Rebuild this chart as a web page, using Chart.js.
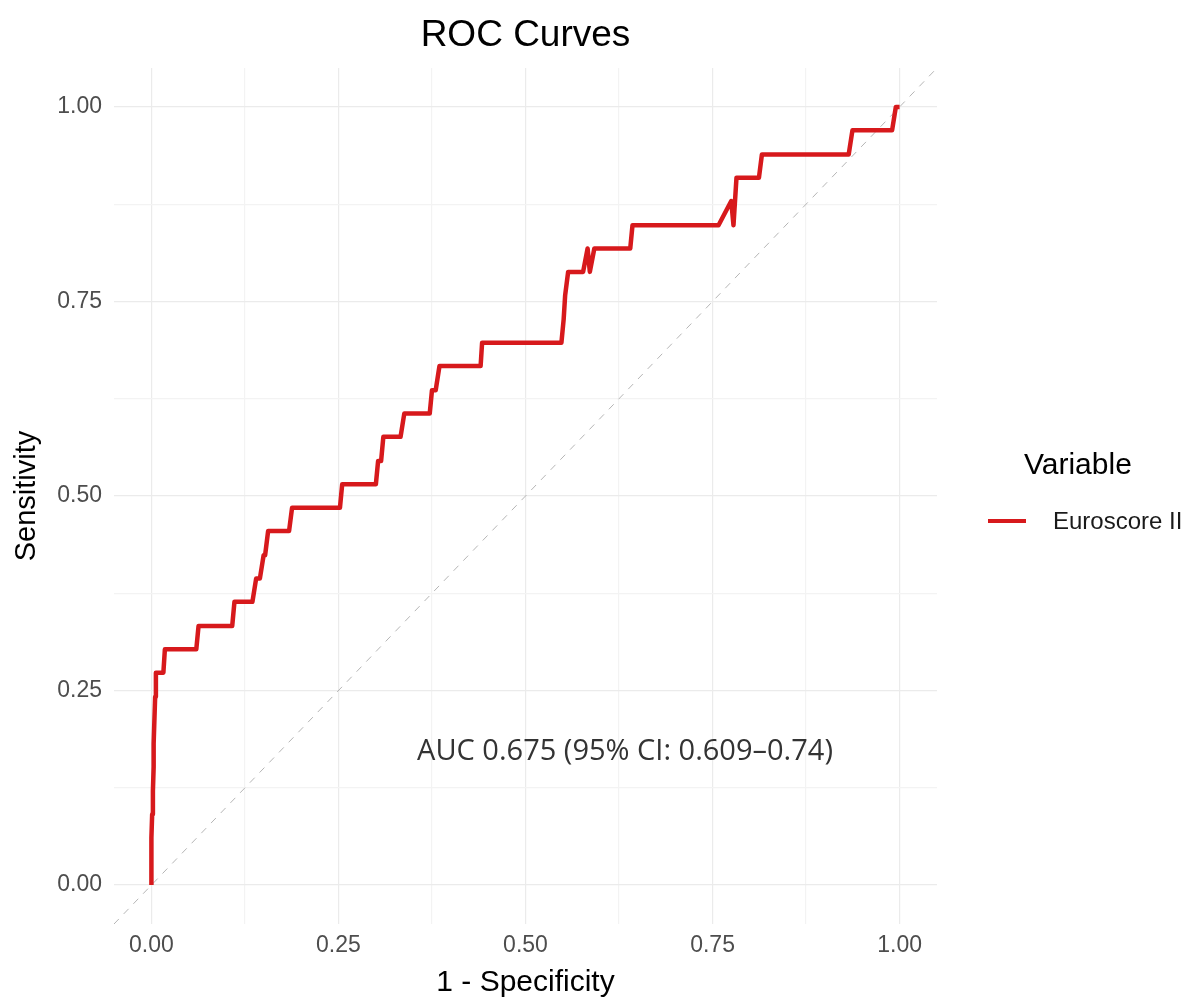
<!DOCTYPE html>
<html>
<head>
<meta charset="utf-8">
<title>ROC Curves</title>
<script src="https://cdn.jsdelivr.net/npm/chart.js@4.4.1/dist/chart.umd.min.js"></script>
<style>
  html, body { margin: 0; padding: 0; background: #fff; }
  #wrap { width: 1197px; height: 1001px; }
</style>
</head>
<body>
<div id="wrap"><canvas id="graficoRoc" width="1197" height="1001"></canvas></div>
<script>
// Curva ROC (1 - especificidade, sensibilidade)
const fpr = [
  0.000, 0.000, 0.000, 0.001, 0.002, 0.003, 0.003, 0.004, 0.005, 0.006,
  0.016, 0.018, 0.060, 0.063, 0.108, 0.111, 0.135, 0.140, 0.145, 0.150,
  0.152, 0.156, 0.184, 0.188, 0.252, 0.255, 0.300, 0.303, 0.307, 0.310,
  0.333, 0.338, 0.372, 0.375, 0.380, 0.385, 0.440, 0.442, 0.548, 0.551,
  0.553, 0.557, 0.577, 0.583, 0.586, 0.592, 0.640, 0.643, 0.758, 0.775,
  0.778, 0.782, 0.812, 0.816, 0.932, 0.937, 0.990, 0.995, 1.000
];
const tpr = [
  0.000, 0.030, 0.061, 0.091, 0.121, 0.152, 0.182, 0.212, 0.242, 0.273,
  0.273, 0.303, 0.303, 0.333, 0.333, 0.364, 0.364, 0.394, 0.394, 0.424,
  0.424, 0.455, 0.455, 0.485, 0.485, 0.515, 0.515, 0.545, 0.545, 0.576,
  0.576, 0.606, 0.606, 0.636, 0.636, 0.667, 0.667, 0.697, 0.697, 0.727,
  0.758, 0.788, 0.788, 0.818, 0.788, 0.818, 0.818, 0.848, 0.848, 0.879,
  0.848, 0.909, 0.909, 0.939, 0.939, 0.970, 0.970, 1.000, 1.000
];

// Linha de referência (acaso)
const diagX = [-0.05, 1.05];
const diagY = [-0.05, 1.05];

// Marcas dos eixos
const ticksMaiores = [0, 0.25, 0.5, 0.75, 1];
const ticksMenores = [0.125, 0.375, 0.625, 0.875];
const rotulosTicks = ['0.00', '0.25', '0.50', '0.75', '1.00'];

const nomeSerie = 'Euroscore II';
const textoAuc = 'AUC 0.675 (95% CI: 0.609\u20130.74)';

const corCurva = '#d7191c';
const fonteBase = "'Liberation Sans', Arial, sans-serif";

function montarTicks(scale) {
  scale.ticks = ticksMaiores.concat(ticksMenores).sort((a, b) => a - b).map(v => ({ value: v }));
}

function rotulo(valor) {
  const i = ticksMaiores.findIndex(t => Math.abs(t - valor) < 1e-9);
  return i === -1 ? '' : rotulosTicks[i];
}

function corGrade(ctx) {
  const v = ctx.tick ? ctx.tick.value : 0;
  return ticksMaiores.some(t => Math.abs(t - v) < 1e-9) ? '#ebebeb' : '#f3f3f3';
}

// Título, legenda e anotação do AUC
const extras = {
  id: 'extras',
  afterDraw(chart) {
    const c = chart.ctx;
    const area = chart.chartArea;
    c.save();
    c.fillStyle = '#000';
    c.textAlign = 'center';
    c.textBaseline = 'middle';
    c.font = '37px ' + fonteBase;
    c.fillText('ROC Curves', (area.left + area.right) / 2, 36);

    // legenda
    c.textAlign = 'left';
    c.font = '30px ' + fonteBase;
    c.fillText('Variable', 1024, 466);
    c.strokeStyle = corCurva;
    c.lineWidth = 4;
    c.beginPath();
    c.moveTo(988, 521);
    c.lineTo(1026, 521);
    c.stroke();
    c.fillStyle = '#1a1a1a';
    c.font = '24px ' + fonteBase;
    c.fillText(nomeSerie, 1053, 522);

    // anotação
    const sx = chart.scales.x, sy = chart.scales.y;
    c.textAlign = 'center';
    c.fillStyle = '#333';
    c.font = "29px 'Open Sans', 'Noto Sans', sans-serif";
    c.fillText(textoAuc, sx.getPixelForValue(0.633), sy.getPixelForValue(0.172));
    c.restore();
  }
};

new Chart(document.getElementById('graficoRoc').getContext('2d'), {
  type: 'scatter',
  data: {
    datasets: [
      {
        label: nomeSerie,
        data: fpr.map((x, i) => ({ x: x, y: tpr[i] })),
        showLine: true,
        borderColor: corCurva,
        backgroundColor: corCurva,
        borderWidth: 4.5,
        borderJoinStyle: 'round',
        pointRadius: 0,
        tension: 0,
        order: 0
      },
      {
        label: 'ref',
        data: diagX.map((x, i) => ({ x: x, y: diagY[i] })),
        showLine: true,
        borderColor: '#b5b5b5',
        borderWidth: 1,
        borderDash: [7, 7],
        pointRadius: 0,
        order: 1
      }
    ]
  },
  options: {
    responsive: false,
    animation: false,
    layout: { padding: { left: 0, right: 260, top: 68, bottom: 0 } },
    plugins: {
      legend: { display: false },
      tooltip: { enabled: false }
    },
    scales: {
      x: {
        type: 'linear',
        min: -0.05, max: 1.05,
        afterBuildTicks: montarTicks,
        afterFit: s => { s.height = 77; },
        grid: { color: corGrade, lineWidth: 1.2, drawTicks: false },
        border: { display: false },
        ticks: {
          autoSkip: false, maxRotation: 0, padding: 8,
          color: '#4d4d4d',
          font: { family: fonteBase, size: 23 },
          callback: rotulo
        },
        title: {
          display: true, text: '1 - Specificity', color: '#000',
          font: { family: fonteBase, size: 30 }, padding: { top: 0, bottom: 0 }
        }
      },
      y: {
        type: 'linear',
        min: -0.05, max: 1.05,
        afterBuildTicks: montarTicks,
        afterFit: s => { s.width = 114; },
        grid: { color: corGrade, lineWidth: 1.2, drawTicks: false },
        border: { display: false },
        ticks: {
          autoSkip: false, padding: 12,
          color: '#4d4d4d',
          font: { family: fonteBase, size: 23 },
          callback: rotulo
        },
        title: {
          display: true, text: 'Sensitivity', color: '#000',
          font: { family: fonteBase, size: 29 }, padding: { top: 10, bottom: 0 }
        }
      }
    }
  },
  plugins: [extras]
});
</script>
</body>
</html>
